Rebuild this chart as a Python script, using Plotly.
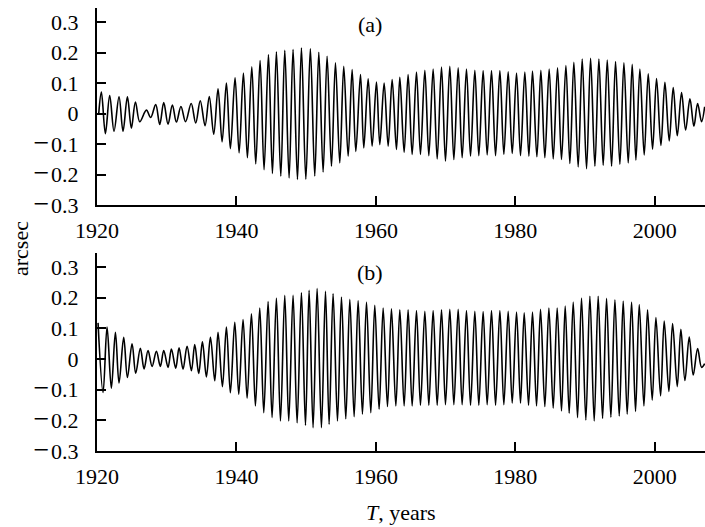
import plotly.graph_objects as go

# ---------------- data ----------------
# Panel (a): times (years) and values (arcsec) of maxima and minima
a_peak_t = [1920.63, 1921.82, 1923.16, 1924.36, 1925.51, 1927.08, 1928.42, 1929.57, 1930.81, 1932.04,
            1933.51, 1934.81, 1936.10, 1937.36, 1938.56, 1939.80, 1941.00, 1942.20, 1943.39, 1944.59,
            1945.73, 1946.93, 1948.12, 1949.32, 1950.60, 1951.81, 1953.00, 1954.20, 1955.39, 1956.59,
            1957.79, 1958.89, 1960.08, 1961.18, 1962.33, 1963.43, 1964.62, 1965.82, 1967.02, 1968.21,
            1969.41, 1970.60, 1971.80, 1972.99, 1974.19, 1975.38, 1976.58, 1977.78, 1978.97, 1980.17,
            1981.36, 1982.46, 1983.66, 1984.85, 1986.05, 1987.25, 1988.39, 1989.59, 1990.79, 1991.98,
            1993.18, 1994.37, 1995.57, 1996.76, 1997.86, 1999.06, 2000.25, 2001.45, 2002.64, 2003.84,
            2005.04, 2006.14]
a_peak_v = [0.070, 0.059, 0.055, 0.055, 0.038, 0.011, 0.029, 0.036, 0.028, 0.023,
            0.033, 0.042, 0.056, 0.081, 0.100, 0.117, 0.133, 0.153, 0.174, 0.193,
            0.202, 0.207, 0.210, 0.215, 0.212, 0.201, 0.188, 0.166, 0.155, 0.144,
            0.128, 0.114, 0.103, 0.100, 0.111, 0.119, 0.128, 0.136, 0.142, 0.146,
            0.152, 0.155, 0.150, 0.146, 0.142, 0.141, 0.141, 0.141, 0.137, 0.133,
            0.136, 0.139, 0.142, 0.146, 0.150, 0.157, 0.168, 0.179, 0.181, 0.179,
            0.175, 0.170, 0.166, 0.161, 0.146, 0.130, 0.115, 0.102, 0.085, 0.069,
            0.048, 0.033]
a_trough_t = [1921.20, 1922.44, 1923.73, 1924.93, 1926.13, 1927.70, 1929.00, 1930.19, 1931.39, 1932.70,
              1934.16, 1935.50, 1936.74, 1937.94, 1939.13, 1940.38, 1941.57, 1942.77, 1943.96, 1945.16,
              1946.36, 1947.55, 1948.75, 1949.95, 1951.23, 1952.43, 1953.63, 1954.82, 1956.02, 1957.12,
              1958.26, 1959.46, 1960.56, 1961.76, 1962.95, 1964.05, 1965.20, 1966.39, 1967.59, 1968.79,
              1969.98, 1971.18, 1972.37, 1973.57, 1974.76, 1975.96, 1977.16, 1978.35, 1979.55, 1980.74,
              1981.94, 1983.09, 1984.23, 1985.43, 1986.62, 1987.82, 1989.01, 1990.21, 1991.41, 1992.60,
              1993.80, 1994.99, 1996.19, 1997.29, 1998.48, 1999.68, 2000.88, 2002.07, 2003.22, 2004.42,
              2005.61, 2006.71]
a_trough_v = [-0.066, -0.058, -0.058, -0.048, -0.027, -0.013, -0.036, -0.035, -0.028, -0.027,
              -0.031, -0.040, -0.068, -0.093, -0.115, -0.129, -0.145, -0.165, -0.184, -0.197,
              -0.205, -0.211, -0.216, -0.215, -0.205, -0.192, -0.173, -0.162, -0.140, -0.124,
              -0.113, -0.107, -0.102, -0.107, -0.118, -0.127, -0.134, -0.134, -0.138, -0.149,
              -0.156, -0.151, -0.145, -0.140, -0.138, -0.136, -0.138, -0.134, -0.131, -0.138,
              -0.140, -0.142, -0.145, -0.149, -0.151, -0.164, -0.175, -0.181, -0.173, -0.170,
              -0.173, -0.167, -0.162, -0.153, -0.136, -0.117, -0.105, -0.090, -0.073, -0.054,
              -0.042, -0.027]
a_ends_t = [1920.25, 2007.15]
a_ends_v = [0.000, 0.022]

# Panel (b)
b_peak_t = [1920.15, 1921.44, 1922.64, 1923.83, 1925.03, 1926.22, 1927.32, 1928.52, 1929.57, 1930.67,
            1931.77, 1932.92, 1934.02, 1935.12, 1936.27, 1937.36, 1938.56, 1939.76, 1940.95, 1942.15,
            1943.34, 1944.54, 1945.73, 1946.93, 1948.12, 1949.32, 1950.42, 1951.57, 1952.77, 1953.86,
            1955.06, 1956.26, 1957.45, 1958.65, 1959.84, 1961.04, 1962.23, 1963.43, 1964.62, 1965.82,
            1967.02, 1968.21, 1969.41, 1970.60, 1971.80, 1972.99, 1974.19, 1975.38, 1976.58, 1977.78,
            1978.97, 1980.17, 1981.27, 1982.46, 1983.61, 1984.81, 1986.00, 1987.15, 1988.30, 1989.49,
            1990.69, 1991.88, 1993.08, 1994.28, 1995.47, 1996.67, 1997.77, 1998.96, 2000.16, 2001.35,
            2002.55, 2003.74, 2004.94, 2006.14]
b_peak_v = [0.118, 0.104, 0.087, 0.071, 0.050, 0.035, 0.028, 0.025, 0.028, 0.033,
            0.037, 0.042, 0.047, 0.056, 0.071, 0.087, 0.104, 0.120, 0.129, 0.148,
            0.166, 0.188, 0.199, 0.208, 0.208, 0.216, 0.224, 0.230, 0.221, 0.213,
            0.202, 0.195, 0.191, 0.186, 0.175, 0.166, 0.164, 0.161, 0.161, 0.158,
            0.156, 0.158, 0.161, 0.162, 0.162, 0.158, 0.156, 0.155, 0.158, 0.158,
            0.156, 0.153, 0.151, 0.153, 0.162, 0.166, 0.166, 0.173, 0.186, 0.199,
            0.205, 0.205, 0.198, 0.193, 0.189, 0.186, 0.178, 0.161, 0.135, 0.124,
            0.116, 0.097, 0.072, 0.034]
b_trough_t = [1920.87, 1922.06, 1923.16, 1924.36, 1925.55, 1926.75, 1927.90, 1929.09, 1930.19, 1931.29,
              1932.34, 1933.54, 1934.59, 1935.69, 1936.89, 1937.99, 1939.13, 1940.33, 1941.53, 1942.72,
              1943.92, 1945.11, 1946.31, 1947.50, 1948.70, 1949.90, 1950.99, 1952.19, 1953.29, 1954.49,
              1955.68, 1956.88, 1958.07, 1959.27, 1960.46, 1961.66, 1962.86, 1964.05, 1965.20, 1966.39,
              1967.59, 1968.79, 1969.98, 1971.18, 1972.37, 1973.57, 1974.76, 1975.96, 1977.16, 1978.35,
              1979.55, 1980.74, 1981.89, 1983.04, 1984.23, 1985.43, 1986.62, 1987.72, 1988.92, 1990.11,
              1991.31, 1992.51, 1993.70, 1994.90, 1996.04, 1997.24, 1998.44, 1999.63, 2000.83, 2002.02,
              2003.22, 2004.32, 2005.51, 2006.71]
b_trough_v = [-0.109, -0.095, -0.078, -0.060, -0.046, -0.032, -0.024, -0.024, -0.027, -0.030,
              -0.033, -0.038, -0.047, -0.058, -0.071, -0.090, -0.110, -0.115, -0.128, -0.153,
              -0.175, -0.191, -0.202, -0.202, -0.208, -0.216, -0.224, -0.224, -0.213, -0.202,
              -0.195, -0.188, -0.180, -0.175, -0.164, -0.155, -0.153, -0.153, -0.153, -0.151,
              -0.151, -0.151, -0.149, -0.149, -0.149, -0.151, -0.151, -0.149, -0.151, -0.149,
              -0.144, -0.144, -0.151, -0.153, -0.155, -0.160, -0.169, -0.177, -0.191, -0.199,
              -0.202, -0.194, -0.190, -0.186, -0.180, -0.171, -0.153, -0.134, -0.120, -0.106,
              -0.090, -0.070, -0.052, -0.027]
b_ends_t = [2007.15]
b_ends_v = [-0.015]

x_tick_vals = [1920, 1940, 1960, 1980, 2000]
x_tick_text = ["1920", "1940", "1960", "1980", "2000"]
y_tick_vals = [-0.3, -0.2, -0.1, 0, 0.1, 0.2, 0.3]
y_tick_text = ["\u22120.3", "\u22120.2", "\u22120.1", "0", "0.1", "0.2", "0.3"]


def merge(*pairs):
    pts = []
    for t, v in pairs:
        pts.extend(zip(t, v))
    pts.sort()
    return [p[0] for p in pts], [p[1] for p in pts]


def wide_minus(label):
    # typeset the minus as in the original (longer dash, small gap)
    if label.startswith("\u2212"):
        return "<span style='font-size:28px'>\u2212</span>\u200a" + label[1:]
    return label


ax, ay = merge((a_peak_t, a_peak_v), (a_trough_t, a_trough_v), (a_ends_t, a_ends_v))
bx, by = merge((b_peak_t, b_peak_v), (b_trough_t, b_trough_v), (b_ends_t, b_ends_v))

FONT = "Liberation Serif, Times New Roman, DejaVu Serif, serif"
FS = 22
fig = go.Figure()
line = dict(color="#000000", width=1.6, shape="spline", smoothing=1.0)
fig.add_trace(go.Scatter(x=ax, y=ay, mode="lines", line=line, xaxis="x", yaxis="y",
                         showlegend=False, hoverinfo="skip"))
fig.add_trace(go.Scatter(x=bx, y=by, mode="lines", line=line, xaxis="x2", yaxis="y2",
                         showlegend=False, hoverinfo="skip"))

xcommon = dict(range=[1920, 2007.2], tickvals=x_tick_vals, ticktext=x_tick_text,
               ticks="inside", ticklen=9, tickwidth=2, tickcolor="black",
               showline=True, linewidth=2, linecolor="black", showgrid=False, zeroline=False,
               ticklabelstandoff=5, tickfont=dict(family=FONT, size=FS, color="black"))
ycommon = dict(range=[-0.3, 0.346], tickvals=y_tick_vals,
               ticktext=[wide_minus(t) for t in y_tick_text],
               ticks="inside", ticklen=9, tickwidth=2, tickcolor="black",
               showline=True, linewidth=2, linecolor="black", showgrid=False, zeroline=False,
               ticklabelstandoff=12, tickfont=dict(family=FONT, size=FS, color="black"))

H = 527
top, bottom = 8, 76
ph = H - top - bottom
def py(px):
    return (H - bottom - px) / ph

fig.update_layout(
    width=705, height=527,
    margin=dict(l=97, r=0, t=top, b=bottom),
    paper_bgcolor="white", plot_bgcolor="white",
    font=dict(family=FONT, size=FS, color="black"),
    xaxis=dict(domain=[0, 1], anchor="y", **xcommon),
    yaxis=dict(domain=[py(205), 1], anchor="x", **ycommon),
    xaxis2=dict(domain=[0, 1], anchor="y2", **xcommon),
    yaxis2=dict(domain=[0, py(253)], anchor="x2", **ycommon),
    annotations=[
        dict(text="(a)", x=(370 - 97) / 608, y=py(25), xref="paper", yref="paper",
             showarrow=False, xanchor="center", yanchor="middle",
             font=dict(family=FONT, size=FS, color="black")),
        dict(text="(b)", x=(370 - 97) / 608, y=py(272), xref="paper", yref="paper",
             showarrow=False, xanchor="center", yanchor="middle",
             font=dict(family=FONT, size=FS, color="black")),
        dict(text="arcsec", x=(20 - 97) / 608, y=py(249), xref="paper", yref="paper",
             showarrow=False, xanchor="center", yanchor="middle", textangle=-90,
             font=dict(family=FONT, size=FS, color="black")),
        dict(text="<i>T</i>, years", x=(401 - 97) / 608, y=py(512), xref="paper", yref="paper",
             showarrow=False, xanchor="center", yanchor="middle",
             font=dict(family=FONT, size=FS, color="black")),
    ],
)

fig.write_html("out.html")
